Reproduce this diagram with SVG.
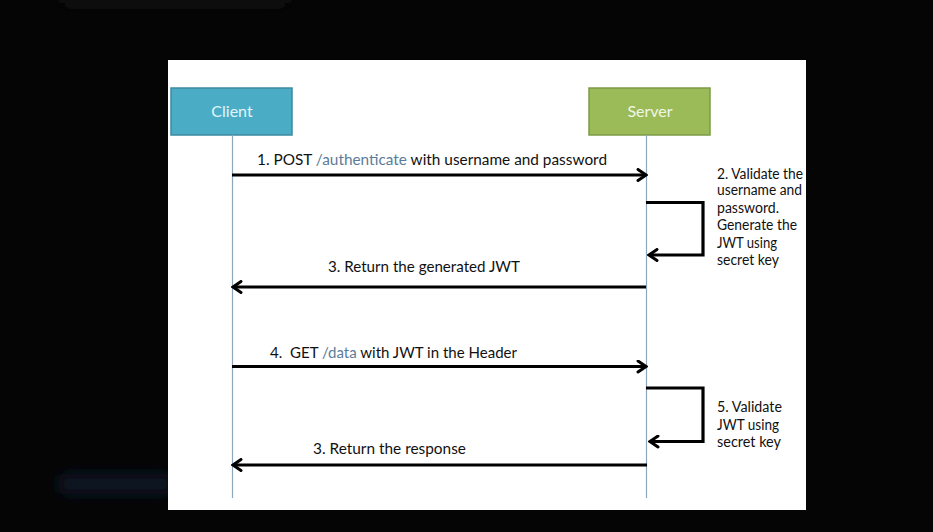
<svg xmlns="http://www.w3.org/2000/svg" width="933" height="532" viewBox="0 0 933 532">
<style>
.msg{font-family:Lato,"Open Sans","Liberation Sans",sans-serif;font-size:16px;fill:#111}
.side{font-family:Lato,"Open Sans","Liberation Sans",sans-serif;font-size:14.5px;fill:#111}
.path{fill:#5b7c99}
.lbl{font-family:Lato,"Open Sans","Liberation Sans",sans-serif;font-size:16px;text-anchor:middle}
.life{stroke:#8fa7bd;stroke-width:1.2;fill:none}
.arrow{stroke:#000;stroke-width:3.2;fill:none;marker-end:url(#ah)}
</style>
<defs>
<marker id="ah" viewBox="0 0 12 14" refX="10" refY="7" markerWidth="12" markerHeight="14" markerUnits="userSpaceOnUse" orient="auto">
<path d="M2,1.5 L10,7 L2,12.5" fill="none" stroke="#000" stroke-width="3" stroke-linejoin="miter" stroke-linecap="round"/>
</marker>
<filter id="blur" x="-50%" y="-200%" width="200%" height="500%"><feGaussianBlur stdDeviation="7"/></filter>
</defs>
<rect x="0" y="0" width="933" height="532" fill="#050505"/>
<rect x="60" y="-8" width="230" height="12" rx="6" fill="#161616" filter="url(#blur)"/>
<rect x="58" y="474" width="115" height="20" rx="8" fill="#0c1726" filter="url(#blur)"/>
<rect x="168" y="60" width="638" height="450" fill="#ffffff"/>
<g id="client">
<rect x="171" y="88" width="121" height="47" fill="#4bacc6" stroke="#3b8aa0" stroke-width="1.5"/>
<text class="lbl" x="232" y="117" fill="#e2f5fa">Client</text>
</g>
<g id="server">
<rect x="589" y="88" width="121" height="47" fill="#9bbb59" stroke="#7d9a45" stroke-width="1.5"/>
<text class="lbl" x="650" y="117" fill="#f0f6e4">Server</text>
</g>
<g id="lifelines">
<line class="life" x1="232.5" y1="135" x2="232.5" y2="498"/>
<line class="life" x1="646.5" y1="135" x2="646.5" y2="498"/>
</g>
<g id="connectors">
<line class="arrow" x1="232" y1="175" x2="646" y2="175"/>
<polyline class="arrow" points="646,202.5 703,202.5 703,255 649,255"/>
<line class="arrow" x1="646" y1="287" x2="233" y2="287"/>
<line class="arrow" x1="232" y1="366.5" x2="646" y2="366.5"/>
<polyline class="arrow" points="646,388 703,388 703,441.5 650,441.5"/>
<line class="arrow" x1="647" y1="465" x2="233" y2="465"/>
</g>
<g id="labels">
<text class="msg" x="257" y="165" textLength="350" lengthAdjust="spacingAndGlyphs">1. POST <tspan class="path">/authenticate</tspan> with username and password</text>
<text class="msg" x="328" y="272" textLength="192" lengthAdjust="spacingAndGlyphs">3. Return the generated JWT</text>
<text class="msg" x="270" y="358" textLength="247" lengthAdjust="spacingAndGlyphs">4.&#160; GET <tspan class="path">/data</tspan> with JWT in the Header</text>
<text class="msg" x="313" y="454" textLength="153" lengthAdjust="spacingAndGlyphs">3. Return the response</text>
<text class="side" x="717" y="178.5" textLength="86" lengthAdjust="spacingAndGlyphs">2. Validate the</text>
<text class="side" x="717" y="195" textLength="85" lengthAdjust="spacingAndGlyphs">username and</text>
<text class="side" x="717" y="212.5" textLength="62" lengthAdjust="spacingAndGlyphs">password.</text>
<text class="side" x="717" y="230" textLength="80" lengthAdjust="spacingAndGlyphs">Generate the</text>
<text class="side" x="717" y="247.5" textLength="60" lengthAdjust="spacingAndGlyphs">JWT using</text>
<text class="side" x="717" y="265" textLength="62" lengthAdjust="spacingAndGlyphs">secret key</text>
<text class="side" x="717" y="412" textLength="65" lengthAdjust="spacingAndGlyphs">5. Validate</text>
<text class="side" x="717" y="429.5" textLength="62" lengthAdjust="spacingAndGlyphs">JWT using</text>
<text class="side" x="717" y="447" textLength="64" lengthAdjust="spacingAndGlyphs">secret key</text>
</g>
</svg>
